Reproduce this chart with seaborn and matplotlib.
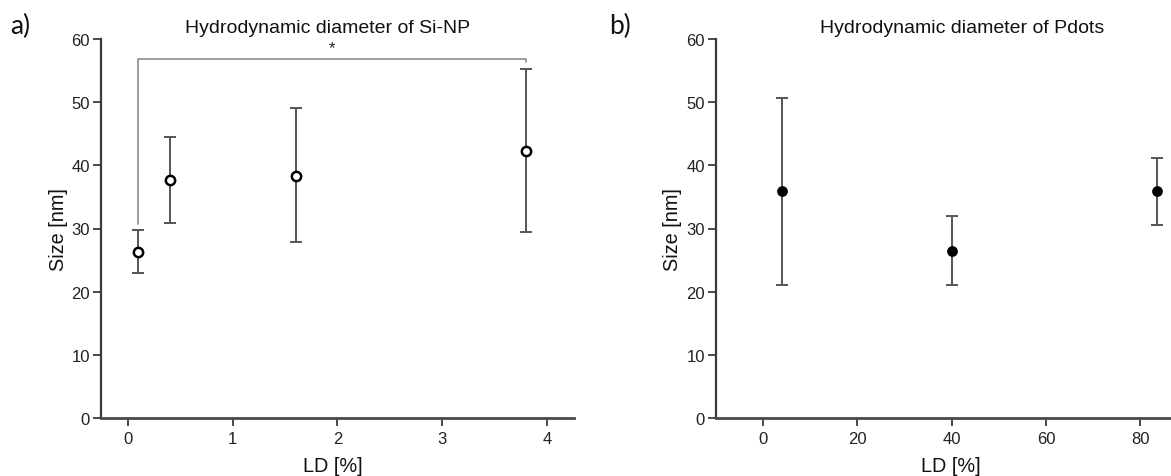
import numpy as np
import pandas as pd
import matplotlib
matplotlib.use("Agg")
import matplotlib.pyplot as plt
import seaborn as sns

# Si-NP: loading degree [%], mean size and error-bar ends [nm]
si_ld = [0.1, 0.4, 1.6, 3.8]
si_size = [26.3, 37.7, 38.3, 42.3]
si_low = [22.9, 30.9, 27.9, 29.4]
si_high = [29.8, 44.5, 49.1, 55.2]

# Pdots: loading degree [%], mean size and error-bar ends [nm]
pd_ld = [4, 40, 83.5]
pd_size = [35.9, 26.5, 35.9]
pd_low = [21.1, 21.1, 30.6]
pd_high = [50.6, 31.9, 41.2]

y_ticks = [0, 10, 20, 30, 40, 50, 60]
si_xticks = [0, 1, 2, 3, 4]
pd_xticks = [0, 20, 40, 60, 80]

sns.set_theme(style="ticks")
plt.rcParams["font.family"] = ["Liberation Sans", "DejaVu Sans"]

W, H = 1171, 477
fig = plt.figure(figsize=(W / 100, H / 100), dpi=100)

def px_axes(left, right, bottom, top):
    return fig.add_axes([left / W, 1 - bottom / H, (right - left) / W, (bottom - top) / H])

ax_a = px_axes(101, 574, 419, 40)
ax_b = px_axes(716, 1178, 419, 40)

spine_col = "#3a3a3a"
err_col = "#555555"

def style_axes(ax, xticks, xlim):
    ax.set_ylim(0, 60)
    ax.set_xlim(*xlim)
    ax.set_yticks(y_ticks)
    ax.set_xticks(xticks)
    for s in ["top", "right"]:
        ax.spines[s].set_visible(False)
    ax.spines["left"].set_color(spine_col)
    ax.spines["bottom"].set_color("#4a4a4a")
    ax.spines["left"].set_linewidth(1.6)
    ax.spines["bottom"].set_linewidth(2.0)
    ax.tick_params(axis="both", direction="out", length=5.5, width=1.3,
                   color=spine_col, labelsize=12, labelcolor="#222222")
    ax.tick_params(axis="y", pad=2.5)
    ax.tick_params(axis="x", pad=4)
    ax.set_facecolor("white")

def draw_series(ax, x, y, lo, hi, filled):
    df = pd.DataFrame({"LD": x, "Size": y, "lo": lo, "hi": hi})
    yerr = np.vstack([df["Size"] - df["lo"], df["hi"] - df["Size"]])
    ax.errorbar(df["LD"], df["Size"], yerr=yerr, fmt="none", ecolor=err_col,
                elinewidth=1.4, capsize=4, capthick=1.4, zorder=2)
    sns.scatterplot(data=df, x="LD", y="Size", ax=ax, s=60 if filled else 45,
                    marker="o", color="black" if filled else "white",
                    edgecolor="black", linewidth=0 if filled else 1.8,
                    zorder=3, clip_on=False)

style_axes(ax_a, si_xticks, (-0.258, 4.26))
style_axes(ax_b, pd_xticks, (-10, 88))

draw_series(ax_a, si_ld, si_size, si_low, si_high, filled=False)
draw_series(ax_b, pd_ld, pd_size, pd_low, pd_high, filled=True)

# significance bracket between the lowest and highest loading
br_col = "#8a8a8a"
br_y = 56.8
ax_a.plot([si_ld[0], si_ld[0], si_ld[-1], si_ld[-1]],
          [si_high[0] + 0.9, br_y, br_y, br_y - 0.4],
          color=br_col, lw=1.2, clip_on=False, zorder=1)
ax_a.text((si_ld[0] + si_ld[-1]) / 2, 57.5, "*", ha="center", va="bottom",
          fontsize=12, color="#222222")

for ax, title, tx, ylx, xlx in [
    (ax_a, "Hydrodynamic diameter of Si-NP", 0.478, -0.07, 0.49),
    (ax_b, "Hydrodynamic diameter of Pdots", 0.532, -0.074, 0.509),
]:
    ax.text(tx, 1.018, title, transform=ax.transAxes, ha="center",
            va="baseline", fontsize=14, color="#111111")
    ax.set_xlabel("LD [%]", fontsize=14.3, color="#111111")
    ax.set_ylabel("Size [nm]", fontsize=14.3, color="#111111")
    ax.xaxis.set_label_coords(xlx, -0.1)
    ax.yaxis.set_label_coords(ylx, 0.5)

fig.text(10 / W, 1 - 34 / H, "a)", fontsize=19, family=["Lato", "DejaVu Sans"],
         ha="left", va="baseline", color="#111111")
fig.text(609 / W, 1 - 34 / H, "b)", fontsize=19, family=["Lato", "DejaVu Sans"],
         ha="left", va="baseline", color="#111111")

fig.savefig("out.png", dpi=100, facecolor="white")
